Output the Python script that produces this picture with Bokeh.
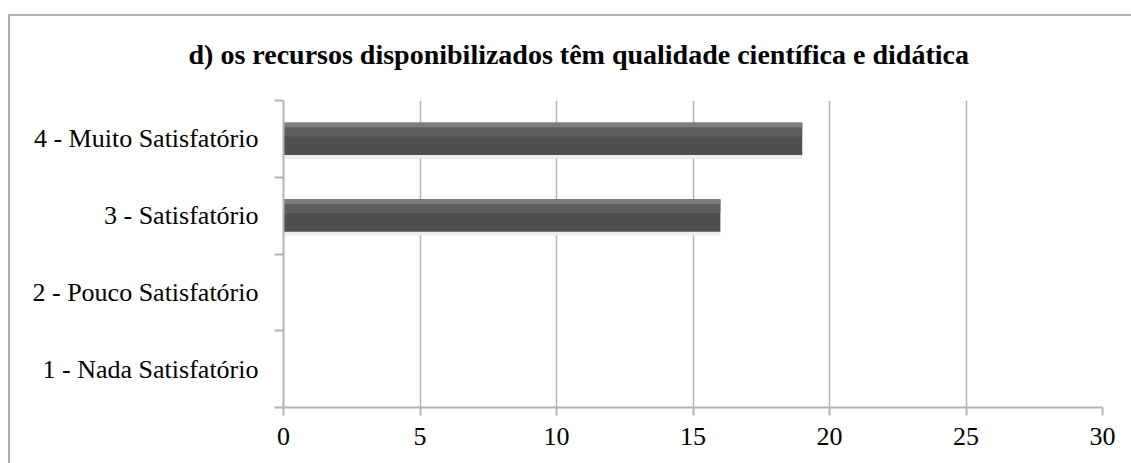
from bokeh.plotting import figure
from bokeh.models import ColumnDataSource, FixedTicker, Range1d
from bokeh.transform import dodge
from bokeh.embed import file_html
from bokeh.resources import INLINE

# ---- data ----
categories = ["1 - Nada Satisfatório", "2 - Pouco Satisfatório",
              "3 - Satisfatório", "4 - Muito Satisfatório"]
counts = [0, 0, 16, 19]
x_ticks = [0, 5, 10, 15, 20, 25, 30]
title_text = "d) os recursos disponibilizados têm qualidade científica e didática"

ypos = [i + 0.5 for i in range(len(categories))]
src = ColumnDataSource(dict(y=ypos, right=counts, cat=categories))

FONT = "Liberation Serif"
GRID = "#b3b3b3"
FRAME = "#b0b0b0"

p = figure(width=1131, height=463, output_backend="svg", toolbar_location=None,
           x_range=Range1d(0, 30), y_range=Range1d(0, len(categories)),
           min_border_left=283, min_border_right=29, min_border_top=100,
           min_border_bottom=56)
p.outline_line_color = None
p.background_fill_color = "white"
p.border_fill_color = None
p.styles = {
    "background": (f"linear-gradient({FRAME},{FRAME}) 8px 14px / 2px 100% no-repeat, "
                   f"linear-gradient({FRAME},{FRAME}) 8px 14px / 100% 2px no-repeat, white"),
}

# title
p.title.text = title_text
p.title.text_font = FONT
p.title.text_font_style = "bold"
p.title.text_font_size = "28px"
p.title.text_color = "black"
p.title.align = "left"
p.title.offset = -95
p.title.vertical_align = "bottom"
p.title.standoff = 62

# bars: shadow, body, highlight
p.hbar(y=dodge("y", -0.03, range=p.y_range), right="right", left=0, height=0.46,
       source=src, fill_color="#ededed", line_color=None)
p.hbar(y="y", right="right", left=0, height=0.42, source=src,
       fill_color="#e0e0e0", line_color=None)
p.hbar(y="y", right="right", left=0, height=0.42, source=src,
       fill_color="#4f4f4f", line_color=None)
p.hbar(y=dodge("y", 0.12, range=p.y_range), right="right", left=0, height=0.18,
       source=src, fill_color="#5e5e5e", line_color=None)
p.hbar(y=dodge("y", 0.18, range=p.y_range), right="right", left=0, height=0.06,
       source=src, fill_color="#7d7d7d", line_color=None)

# x axis
p.xaxis.ticker = FixedTicker(ticks=x_ticks)
p.xaxis.axis_line_color = GRID
p.xaxis.axis_line_width = 2
p.xaxis.major_tick_line_color = GRID
p.xaxis.major_tick_line_width = 2
p.xaxis.major_tick_in = 0
p.xaxis.major_tick_out = 8
p.xaxis.minor_tick_line_color = None
p.xaxis.major_label_text_font = FONT
p.xaxis.major_label_text_font_size = "26px"
p.xaxis.major_label_text_color = "black"
p.xaxis.major_label_standoff = 12

# y axis: labels at centres, ticks at boundaries
p.yaxis.ticker = FixedTicker(ticks=ypos, minor_ticks=list(range(len(categories) + 1)))
p.yaxis.major_label_overrides = {y: c for y, c in zip(ypos, categories)}
p.yaxis.axis_line_color = GRID
p.yaxis.axis_line_width = 2
p.yaxis.major_tick_line_color = None
p.yaxis.minor_tick_line_color = GRID
p.yaxis.minor_tick_line_width = 2
p.yaxis.minor_tick_in = 0
p.yaxis.minor_tick_out = 9
p.yaxis.major_label_text_font = FONT
p.yaxis.major_label_text_font_size = "26px"
p.yaxis.major_label_text_color = "black"
p.yaxis.major_label_standoff = 16

p.xgrid.grid_line_color = GRID
p.xgrid.grid_line_width = 1.5
p.ygrid.grid_line_color = None

open("out.html", "w").write(file_html(p, INLINE))
